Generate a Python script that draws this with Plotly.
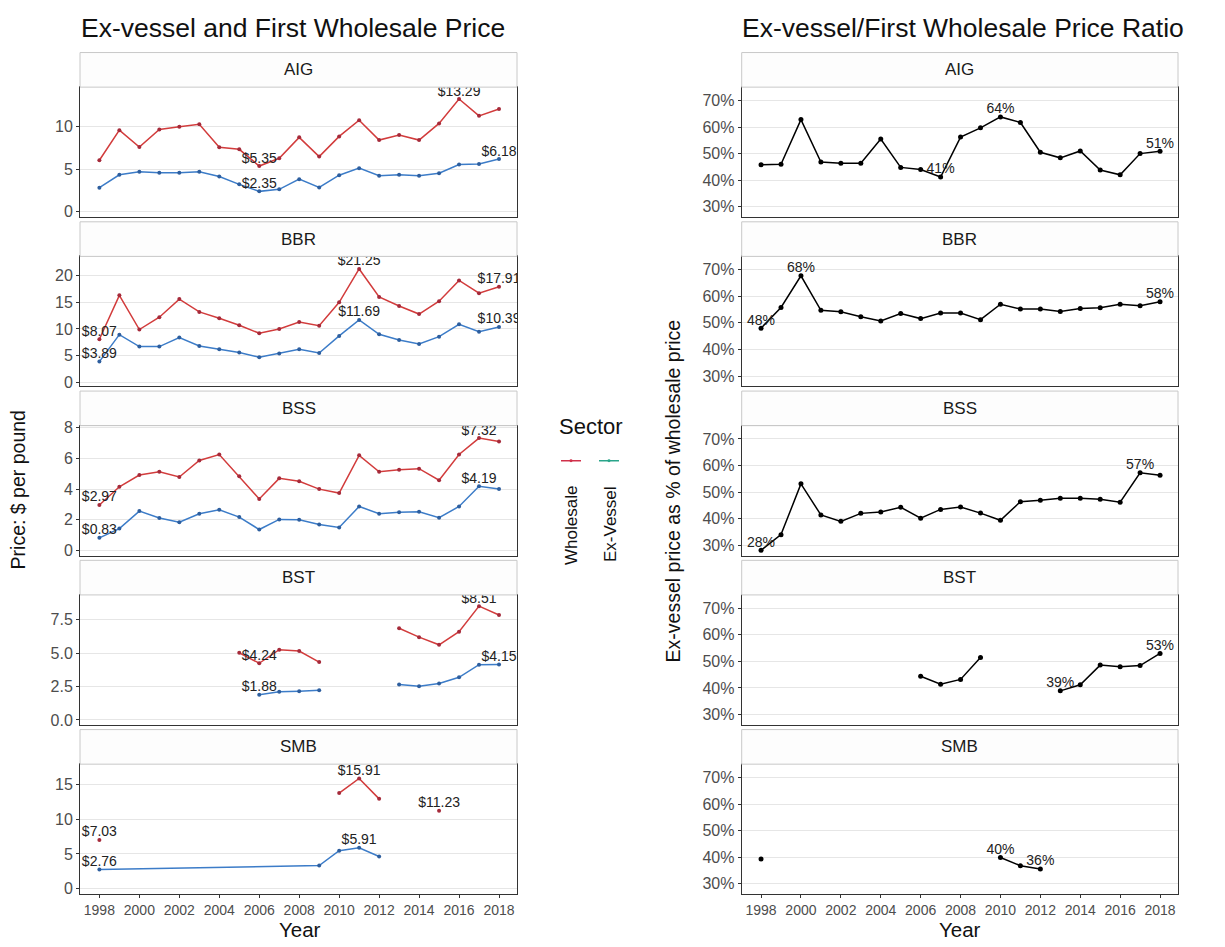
import plotly.graph_objects as go

# Years on the x axis
years = list(range(1998, 2019))
species = ["AIG", "BBR", "BSS", "BST", "SMB"]

# Price in $ per pound (None = no data)
aig_wholesale = [6.04, 9.6, 7.6, 9.69, 10.0, 10.3, 7.57, 7.33, 5.35, 6.27, 8.75,
                 6.47, 8.86, 10.78, 8.43, 9.02, 8.43, 10.4, 13.29, 11.3, 12.1]
aig_exvessel = [2.78, 4.31, 4.67, 4.55, 4.55, 4.67, 4.12, 3.18, 2.35, 2.59, 3.8,
                2.82, 4.27, 5.1, 4.2, 4.31, 4.2, 4.5, 5.53, 5.6, 6.18]
bbr_wholesale = [8.07, 16.3, 9.9, 12.2, 15.6, 13.2, 12.0, 10.7, 9.2, 10.0, 11.3,
                 10.6, 15.0, 21.25, 16.0, 14.3, 12.8, 15.2, 19.1, 16.7, 17.91]
bbr_exvessel = [3.89, 8.94, 6.7, 6.7, 8.4, 6.83, 6.2, 5.6, 4.72, 5.4, 6.2,
                5.5, 8.7, 11.69, 9.0, 7.95, 7.2, 8.57, 10.87, 9.5, 10.39]
bss_wholesale = [2.97, 4.15, 4.92, 5.13, 4.79, 5.86, 6.25, 4.83, 3.36, 4.7, 4.51,
                 4.0, 3.74, 6.2, 5.13, 5.26, 5.33, 4.58, 6.25, 7.32, 7.1]
bss_exvessel = [0.83, 1.43, 2.57, 2.12, 1.84, 2.4, 2.65, 2.18, 1.37, 2.03, 2.01,
                1.69, 1.5, 2.87, 2.4, 2.5, 2.52, 2.14, 2.87, 4.19, 4.0]
bst_wholesale = [None] * 7 + [5.02, 4.24, 5.25, 5.15, 4.33, None, None, None,
                              6.86, 6.19, 5.62, 6.6, 8.51, 7.85]
bst_exvessel = [None] * 8 + [1.88, 2.1, 2.15, 2.23, None, None, None,
                             2.65, 2.52, 2.72, 3.19, 4.13, 4.15]
smb_wholesale = [7.03] + [None] * 11 + [13.8, 15.91, 12.96, None, None, 11.23,
                                        None, None, None]
smb_exvessel = [2.76] + [None] * 10 + [3.34, 5.48, 5.91, 4.64] + [None] * 6

# Ex-vessel as % of wholesale price
aig_ratio = [45.8, 46.0, 62.8, 46.8, 46.4, 46.4, 55.5, 44.8, 44.0, 41.2, 56.2,
             59.7, 63.8, 61.7, 50.5, 48.4, 51.0, 43.8, 42.0, 50.0, 50.9]
bbr_ratio = [48.0, 55.8, 67.7, 54.7, 54.2, 52.3, 50.7, 53.5, 51.6, 53.7, 53.7,
             51.2, 57.0, 55.2, 55.2, 54.3, 55.4, 55.7, 57.0, 56.4, 57.9]
bss_ratio = [28.1, 34.0, 53.1, 41.4, 39.0, 42.0, 42.5, 44.3, 40.2, 43.5, 44.4,
             42.1, 39.4, 46.4, 46.9, 47.7, 47.7, 47.3, 46.2, 57.3, 56.3]
bst_ratio = [None] * 8 + [44.4, 41.4, 43.2, 51.5, None, None, None,
                          38.9, 41.2, 48.6, 48.0, 48.4, 53.0]
smb_ratio = [39.3] + [None] * 11 + [39.9, 36.8, 35.6] + [None] * 6

# years that carry a value label
wholesale_labels = [[2006, 2016], [1998, 2011, 2018], [1998, 2017], [2006, 2017], [1998, 2011, 2015]]
exvessel_labels = [[2006, 2018], [1998, 2011, 2018], [1998, 2017], [2006, 2018], [1998, 2011]]
ratio_labels = [[2007, 2010, 2018], [1998, 2000, 2018], [1998, 2017], [2013, 2018], [2010, 2012]]

# y axis ticks of the panels
price_ticks = [[0, 5, 10], [0, 5, 10, 15, 20], [0, 2, 4, 6, 8], [0, 2.5, 5, 7.5], [0, 5, 10, 15]]
price_ranges = [[-0.7, 14.7], [-0.75, 23.6], [-0.33, 8.13], [-0.37, 9.35], [-0.8, 17.97]]
ratio_ticks = [30, 40, 50, 60, 70]

wholesale = [aig_wholesale, bbr_wholesale, bss_wholesale, bst_wholesale, smb_wholesale]
exvessel = [aig_exvessel, bbr_exvessel, bss_exvessel, bst_exvessel, smb_exvessel]
ratio = [aig_ratio, bbr_ratio, bss_ratio, bst_ratio, smb_ratio]

W, H = 1225, 947
OFF = 8  # page body margin
FONT = "Liberation Sans, Arial, sans-serif"
RED, RED_DOT = "#D23C3C", "#A52A3A"
BLUE, BLUE_DOT = "#3C7CC8", "#2D5E9E"


def fx(px):
    return (px - OFF) / W


def fy(py):
    return 1 - (py - OFF) / H


# panel geometry in pixels
left_x = (80, 517)
right_x = (741.7, 1178)
panel_top = [82, 253.25, 424.5, 595.75, 767]
panel_h = 131.5
strip_h = 35

fig = go.Figure()
layout = {}
shapes = []
annotations = []


def labelled(vals, keep):
    xs, ys = [], []
    for yr, v in zip(years, vals):
        if yr in keep and v is not None:
            xs.append(yr)
            ys.append(v)
    return xs, ys


axis_common = dict(ticks="outside", ticklen=3, tickcolor="#333333", zeroline=False,
                   showline=True, mirror=True, linecolor="#333333", linewidth=1)

for i, sp in enumerate(species):
    nl, nr = 2 * i + 1, 2 * i + 2
    top = panel_top[i]
    ydom = [fy(top + panel_h), fy(top)]
    bottom = i == len(species) - 1

    # price panel
    for vals, col, dot, lab in [(wholesale[i], RED, RED_DOT, wholesale_labels[i]),
                                (exvessel[i], BLUE, BLUE_DOT, exvessel_labels[i])]:
        fig.add_trace(go.Scatter(
            x=years, y=vals, mode="lines+markers", xaxis=f"x{nl}", yaxis=f"y{nl}",
            line=dict(color=col, width=1.5), marker=dict(color=dot, size=4),
            connectgaps=(vals is smb_exvessel),
            showlegend=False, hoverinfo="x+y"))
        lx, ly = labelled(vals, lab)
        fig.add_trace(go.Scatter(
            x=lx, y=ly, mode="text", text=[f"${v:.2f}" for v in ly],
            textposition="top center", xaxis=f"x{nl}", yaxis=f"y{nl}",
            textfont=dict(size=14, color="#222222", family=FONT),
            showlegend=False, hoverinfo="skip"))

    # ratio panel
    fig.add_trace(go.Scatter(
        x=years, y=ratio[i], mode="lines+markers", xaxis=f"x{nr}", yaxis=f"y{nr}",
        line=dict(color="black", width=1.5), marker=dict(color="black", size=5),
        showlegend=False, hoverinfo="x+y"))
    lx, ly = labelled(ratio[i], ratio_labels[i])
    fig.add_trace(go.Scatter(
        x=lx, y=ly, mode="text", text=[f"{round(v)}%" for v in ly],
        textposition="top center", xaxis=f"x{nr}", yaxis=f"y{nr}",
        textfont=dict(size=14, color="#222222", family=FONT),
        showlegend=False, hoverinfo="skip"))

    for n, xd in [(nl, left_x), (nr, right_x)]:
        layout[f"xaxis{n}"] = dict(
            axis_common, domain=[fx(xd[0]), fx(xd[1])], anchor=f"y{n}",
            range=[1997.03, 2018.9], tickvals=list(range(1998, 2019, 2)),
            showticklabels=bottom, ticks="outside" if bottom else "",
            tickfont=dict(size=14, color="#4D4D4D", family=FONT), showgrid=False)
        # strip on top of each panel
        shapes.append(dict(type="rect", xref="paper", yref="paper",
                           x0=fx(xd[0]), x1=fx(xd[1]), y0=fy(top), y1=fy(top - strip_h),
                           fillcolor="#FDFDFD", line=dict(color="#C8C8C8", width=1)))
        annotations.append(dict(text=sp, xref="paper", yref="paper",
                                x=fx((xd[0] + xd[1]) / 2), y=fy(top - strip_h / 2),
                                showarrow=False, xanchor="center", yanchor="middle",
                                font=dict(size=17, color="#1A1A1A", family=FONT)))

    layout[f"yaxis{nl}"] = dict(
        axis_common, domain=ydom, anchor=f"x{nl}", range=price_ranges[i],
        tickvals=price_ticks[i], tickformat=".1f" if sp == "BST" else "d",
        tickfont=dict(size=16, color="#4D4D4D", family=FONT),
        showgrid=True, gridcolor="#E6E6E6", gridwidth=1)
    layout[f"yaxis{nr}"] = dict(
        axis_common, domain=ydom, anchor=f"x{nr}", range=[26.1, 75],
        tickvals=ratio_ticks, ticktext=[f"{t}%" for t in ratio_ticks],
        tickfont=dict(size=16, color="#4D4D4D", family=FONT),
        showgrid=True, gridcolor="#E6E6E6", gridwidth=1)

# titles and axis titles
txt = [
    ("Ex-vessel and First Wholesale Price", 79, 22, 26.5, 0, "left"),
    ("Ex-vessel/First Wholesale Price Ratio", 740, 22, 26.5, 0, "left"),
    ("Year", 300, 934, 20.5, 0, "center"),
    ("Year", 960, 934, 20.5, 0, "center"),
    ("Price: $ per pound", 18, 490, 19.5, -90, "center"),
    ("Ex-vessel price as % of wholesale price", 673, 491, 19.5, -90, "center"),
    ("Sector", 591, 425, 22, 0, "center"),
    ("Wholesale", 572, 526, 17, -90, "center"),
    ("Ex-Vessel", 610, 524, 17, -90, "center"),
]
for t, x, y, s, ang, xa in txt:
    annotations.append(dict(text=t, xref="paper", yref="paper", x=fx(x), y=fy(y),
                            showarrow=False, xanchor=xa, yanchor="middle", textangle=ang,
                            font=dict(size=s, color="#111111", family=FONT)))

# legend keys
for x0, col in [(561, "#D0304A"), (599, "#2AA58A")]:
    shapes.append(dict(type="line", xref="paper", yref="paper", x0=fx(x0), x1=fx(x0 + 20),
                       y0=fy(460), y1=fy(460), line=dict(color=col, width=1.5)))
    shapes.append(dict(type="circle", xref="paper", yref="paper",
                       x0=fx(x0 + 8.5), x1=fx(x0 + 11.5), y0=fy(461.5), y1=fy(458.5),
                       fillcolor=col, line=dict(color=col, width=0)))

fig.update_layout(
    width=W, height=H, margin=dict(l=0, r=0, t=0, b=0),
    paper_bgcolor="white", plot_bgcolor="white",
    font=dict(family=FONT), showlegend=False,
    shapes=shapes, annotations=annotations, **layout)

fig.write_html("out.html")
